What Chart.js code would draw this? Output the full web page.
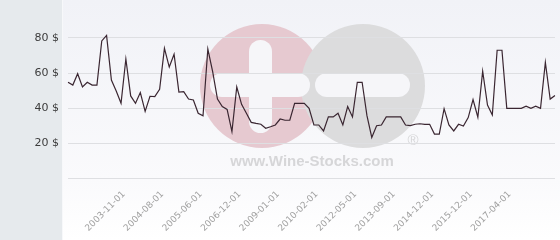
<!DOCTYPE html>
<html>
<head>
<meta charset="utf-8">
<script src="https://cdn.jsdelivr.net/npm/chart.js@4/dist/chart.umd.min.js"></script>
<style>
  html, body { margin: 0; padding: 0; background: #ffffff; }
  #wrap { width: 560px; height: 240px; position: relative; }
</style>
</head>
<body>
<div id="wrap"><canvas id="c" width="560" height="240"></canvas></div>
<script>
// ---- data ----
const dates = [
  '2002-11-01','2002-12-01','2003-01-01','2003-02-01','2003-03-01','2003-04-01','2003-05-01','2003-06-01','2003-07-01','2003-08-01','2003-09-01','2003-10-01',
  '2003-11-01','2003-12-01','2004-01-01','2004-02-01','2004-03-01','2004-05-01','2004-06-01','2004-07-01',
  '2004-08-01','2004-09-01','2004-10-01','2004-12-01','2005-01-01','2005-02-01','2005-04-01','2005-05-01',
  '2005-06-01','2005-08-01','2005-10-01','2006-01-01','2006-03-01','2006-05-01','2006-07-01','2006-10-01',
  '2006-12-01','2007-03-01','2007-06-01','2007-09-01','2007-12-01','2008-03-01','2008-07-01','2008-10-01',
  '2009-01-01','2009-03-01','2009-04-01','2009-06-01','2009-08-01','2009-09-01','2009-11-01','2009-12-01',
  '2010-02-01','2010-05-01','2010-09-01','2010-12-01','2011-04-01','2011-07-01','2011-10-01','2012-02-01',
  '2012-05-01','2012-07-01','2012-09-01','2012-11-01','2013-01-01','2013-03-01','2013-05-01','2013-07-01',
  '2013-09-01','2013-11-01','2014-01-01','2014-03-01','2014-05-01','2014-07-01','2014-09-01','2014-10-01',
  '2014-12-01','2015-01-01','2015-03-01','2015-04-01','2015-06-01','2015-07-01','2015-09-01','2015-10-01',
  '2015-12-01','2016-02-01','2016-04-01','2016-06-01','2016-08-01','2016-10-01','2016-12-01','2017-02-01',
  '2017-04-01','2017-05-01','2017-06-01','2017-07-01','2017-08-01','2017-09-01','2017-10-01','2017-11-01','2017-12-01','2018-01-01'
];
const prices = [
  54.7, 53.1, 59.6, 52.0, 54.7, 53.1, 53.1, 78.3, 81.5, 56.0, 49.7, 42.7,
  68.0, 46.9, 42.7, 48.8, 38.1, 46.7, 46.5, 50.7,
  74.1, 63.4, 70.7, 49.1, 49.3, 45.1, 44.6, 37.0,
  35.6, 73.7, 60.8, 45.1, 40.8, 39.2, 26.5, 52.0,
  42.1, 37.0, 31.8, 31.2, 30.7, 28.4, 29.3, 30.3,
  33.7, 33.0, 33.0, 42.7, 42.7, 42.7, 39.8, 30.3,
  30.3, 26.9, 34.9, 34.9, 37.0, 30.3, 40.8, 34.9,
  54.7, 54.7, 35.6, 23.2, 29.9, 30.3, 34.9, 34.9,
  34.9, 34.9, 30.3, 29.9, 30.7, 31.0, 30.7, 30.7,
  25.1, 25.1, 39.6, 30.3, 26.9, 30.7, 29.7, 34.5,
  44.8, 34.7, 61.0, 41.7, 36.0, 73.0, 73.0, 39.8,
  39.8, 39.8, 39.8, 41.0, 39.8, 41.0, 39.8, 66.1, 45.1, 47.2
];
const shownDateLabels = ['2003-11-01','2004-08-01','2005-06-01','2006-12-01','2009-01-01','2010-02-01',
  '2012-05-01','2013-09-01','2014-12-01','2015-12-01','2017-04-01'];
const yTickValues = [0, 20, 40, 60, 80];
const currency = '$';
const watermarkText = 'www.Wine-Stocks.com';

// ---- background + watermark ----
function roundBar(ctx, x, y, w, h) {
  const r = Math.min(w, h) / 2;
  ctx.beginPath();
  ctx.moveTo(x + r, y);
  ctx.lineTo(x + w - r, y);
  ctx.arcTo(x + w, y, x + w, y + r, r);
  ctx.lineTo(x + w, y + h - r);
  ctx.arcTo(x + w, y + h, x + w - r, y + h, r);
  ctx.lineTo(x + r, y + h);
  ctx.arcTo(x, y + h, x, y + h - r, r);
  ctx.lineTo(x, y + r);
  ctx.arcTo(x, y, x + r, y, r);
  ctx.closePath();
  ctx.fill();
}
const backgroundPlugin = {
  id: 'bgWatermark',
  beforeDraw(chart) {
    const ctx = chart.ctx;
    const W = chart.width, H = chart.height;
    ctx.save();
    const g = ctx.createLinearGradient(0, 0, 0, H);
    g.addColorStop(0, '#f1f2f7');
    g.addColorStop(0.75, '#fafafc');
    g.addColorStop(1, '#ffffff');
    ctx.fillStyle = g;
    ctx.fillRect(0, 0, W, H);
    ctx.fillStyle = '#e6eaed';
    ctx.fillRect(0, 0, 62, H);
    ctx.fillStyle = '#f7f8fa';
    ctx.fillRect(62, 0, 1, H);

    // logo circles
    ctx.fillStyle = '#e6c9d0';
    ctx.beginPath(); ctx.arc(262, 86, 62, 0, Math.PI * 2); ctx.fill();
    ctx.fillStyle = '#dcdcdd';
    ctx.beginPath(); ctx.arc(363, 86, 62, 0, Math.PI * 2); ctx.fill();
    ctx.fillStyle = '#f6f6f9';
    roundBar(ctx, 249, 40, 23, 93);
    roundBar(ctx, 210, 73, 100, 24);
    roundBar(ctx, 315, 73, 95, 24);

    ctx.fillStyle = '#d6d6d8';
    ctx.font = 'bold 15px "Liberation Sans", Arial, sans-serif';
    ctx.textAlign = 'center';
    ctx.textBaseline = 'middle';
    ctx.fillText(watermarkText, 312, 162);
    ctx.font = '15px "Liberation Sans", Arial, sans-serif';
    ctx.fillText('\u00AE', 413, 141);
    ctx.restore();
  }
};

new Chart(document.getElementById('c'), {
  type: 'line',
  data: {
    labels: dates,
    datasets: [{
      data: prices,
      borderColor: '#3a2631',
      borderWidth: 1.2,
      pointRadius: 0,
      pointHoverRadius: 0,
      tension: 0,
      fill: false
    }]
  },
  options: {
    responsive: false,
    animation: false,
    devicePixelRatio: 1,
    layout: { padding: { top: 3, right: 5, left: 0, bottom: 0 } },
    plugins: { legend: { display: false }, tooltip: { enabled: false } },
    scales: {
      x: {
        type: 'category',
        offset: false,
        grid: { display: false },
        border: { display: false },
        ticks: {
          autoSkip: false,
          minRotation: 45,
          maxRotation: 45,
          padding: 3,
          labelOffset: -2,
          color: '#a0a0a0',
          font: { family: '"DejaVu Sans", sans-serif', size: 9 },
          callback: function (val, i) {
            const lab = this.getLabelForValue(val);
            return shownDateLabels.includes(lab) ? lab : null;
          }
        },
        afterFit(scale) { scale.height = 62; scale.paddingLeft = 0; scale.paddingRight = 0; }
      },
      y: {
        min: 0,
        max: 100,
        afterBuildTicks(scale) { scale.ticks = yTickValues.map(v => ({ value: v })); },
        grid: { color: '#dedfe2', lineWidth: 1, drawTicks: false },
        border: { display: false },
        ticks: {
          padding: 9,
          color: '#3c3c3c',
          font: { family: '"DejaVu Sans", sans-serif', size: 11 },
          callback: v => (v === 0 ? '' : v + ' ' + currency)
        },
        afterFit(scale) { scale.width = 68; scale.paddingTop = 0; scale.paddingBottom = 0; }
      }
    }
  },
  plugins: [backgroundPlugin]
});
</script>
</body>
</html>
